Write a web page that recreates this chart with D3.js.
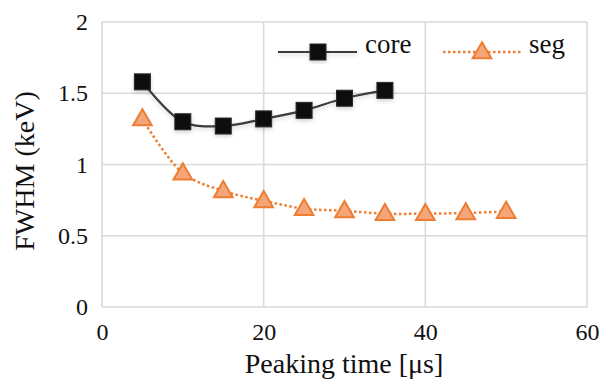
<!DOCTYPE html>
<html>
<head>
<meta charset="utf-8">
<script src="https://cdn.jsdelivr.net/npm/d3@7"></script>
<style>
  html, body { margin: 0; padding: 0; background: #fff; }
</style>
</head>
<body>
<svg id="chart" width="600" height="382"></svg>
<script>
// Energy resolution vs. shaping peaking time
const coreTimes = [5, 10, 15, 20, 25, 30, 35];
const coreFwhm  = [1.58, 1.30, 1.27, 1.32, 1.38, 1.465, 1.52];
const segTimes  = [5, 10, 15, 20, 25, 30, 35, 40, 45, 50];
const segFwhm   = [1.32, 0.94, 0.815, 0.745, 0.69, 0.675, 0.655, 0.655, 0.66, 0.67];
const xTicks = [0, 20, 40, 60];
const yTicks = [0, 0.5, 1, 1.5, 2];
const yTickLabels = ["0", "0.5", "1", "1.5", "2"];
const seriesNames = ["core", "seg"];

const svg = d3.select("#chart");
const margin = { left: 102, right: 13, top: 22, bottom: 75 };
const W = 600, H = 382;
const FONT = "'Liberation Serif'";

const x = d3.scaleLinear().domain([0, 60]).range([margin.left, W - margin.right]);
const y = d3.scaleLinear().domain([0, 2]).range([H - margin.bottom, margin.top]);

const grid = "#d9d9d9";
const ink = "#111";

// soft shadow under the core trace
const defs = svg.append("defs");
const f = defs.append("filter").attr("id", "soft").attr("x", "-20%").attr("y", "-20%").attr("width", "140%").attr("height", "140%");
f.append("feGaussianBlur").attr("in", "SourceAlpha").attr("stdDeviation", 2.2).attr("result", "b");
f.append("feOffset").attr("in", "b").attr("dx", 0).attr("dy", 2).attr("result", "o");
f.append("feComponentTransfer").attr("in", "o").attr("result", "s")
  .append("feFuncA").attr("type", "linear").attr("slope", 0.18);
const m = f.append("feMerge");
m.append("feMergeNode").attr("in", "s");
m.append("feMergeNode").attr("in", "SourceGraphic");

// grid lines
svg.append("g").selectAll("line").data(yTicks).join("line")
  .attr("x1", x(0)).attr("x2", x(60))
  .attr("y1", d => y(d)).attr("y2", d => y(d))
  .attr("stroke", grid).attr("stroke-width", 1.6);
svg.append("g").selectAll("line").data(xTicks).join("line")
  .attr("y1", y(0)).attr("y2", y(2))
  .attr("x1", d => x(d)).attr("x2", d => x(d))
  .attr("stroke", grid).attr("stroke-width", 1.6);

// y axis labels
const yAxis = d3.axisLeft(y).tickValues(yTicks).tickSize(0).tickPadding(14)
  .tickFormat((d, i) => yTickLabels[i]);
svg.append("g").attr("transform", `translate(${x(0)},0)`).call(yAxis)
  .attr("font-family", null).attr("font-size", null)
  .call(g => g.select(".domain").remove())
  .selectAll("text").style("font-family", FONT).style("font-size", "24px").attr("fill", ink);

// x axis labels
const xAxis = d3.axisBottom(x).tickValues(xTicks).tickSize(0).tickPadding(16).tickFormat(d3.format("d"));
svg.append("g").attr("transform", `translate(0,${y(0)})`).call(xAxis)
  .attr("font-family", null).attr("font-size", null)
  .call(g => g.select(".domain").remove())
  .selectAll("text").style("font-family", FONT).style("font-size", "24px").attr("fill", ink);

// axis titles
svg.append("text").attr("x", 344).attr("y", 373).attr("text-anchor", "middle")
  .style("font-family", FONT).style("font-size", "28px").attr("fill", ink).text("Peaking time [μs]");
svg.append("text").attr("transform", "translate(34,171) rotate(-90)").attr("text-anchor", "middle")
  .style("font-family", FONT).style("font-size", "28px").attr("fill", ink).text("FWHM (keV)");

const lineGen = d3.line().curve(d3.curveCatmullRom.alpha(0.5));

// seg series
const segPts = segTimes.map((t, i) => [x(t), y(segFwhm[i])]);
svg.append("path").attr("d", lineGen(segPts)).attr("fill", "none")
  .attr("stroke", "#ED7D31").attr("stroke-width", 2.5).attr("stroke-dasharray", "2.5,2.5");
const tri = d3.symbol().type(d3.symbolTriangle).size(150);
svg.append("g").selectAll("path").data(segPts).join("path")
  .attr("d", tri).attr("transform", d => `translate(${d[0]},${d[1] + 1})`)
  .attr("fill", "#F4A57A").attr("stroke", "#ED7D31").attr("stroke-width", 2);

// core series
const corePts = coreTimes.map((t, i) => [x(t), y(coreFwhm[i])]);
const coreG = svg.append("g").attr("filter", "url(#soft)");
coreG.append("path").attr("d", lineGen(corePts)).attr("fill", "none")
  .attr("stroke", "#3a3a3a").attr("stroke-width", 2.2);
coreG.selectAll("rect").data(corePts).join("rect")
  .attr("x", d => d[0] - 8).attr("y", d => d[1] - 8).attr("width", 16).attr("height", 16)
  .attr("fill", "#111").attr("stroke", "#2a2a2a").attr("stroke-width", 1);

// legend
const leg = svg.append("g");
const ly = 52;
const lg1 = leg.append("g").attr("filter", "url(#soft)");
lg1.append("line").attr("x1", 278).attr("x2", 357).attr("y1", ly).attr("y2", ly)
  .attr("stroke", "#3a3a3a").attr("stroke-width", 2.2);
lg1.append("rect").attr("x", 318 - 8).attr("y", ly - 8).attr("width", 16).attr("height", 16)
  .attr("fill", "#111").attr("stroke", "#2a2a2a").attr("stroke-width", 1);
leg.append("text").attr("x", 365).attr("y", ly + 1).style("font-family", FONT).style("font-size", "27px")
  .attr("fill", ink).text(seriesNames[0]);

leg.append("line").attr("x1", 443).attr("x2", 521).attr("y1", ly).attr("y2", ly)
  .attr("stroke", "#ED7D31").attr("stroke-width", 2.5).attr("stroke-dasharray", "2.5,2.5");
leg.append("path").attr("d", tri).attr("transform", `translate(482,${ly + 1})`)
  .attr("fill", "#F4A57A").attr("stroke", "#ED7D31").attr("stroke-width", 2);
leg.append("text").attr("x", 529).attr("y", ly + 1).style("font-family", FONT).style("font-size", "27px")
  .attr("fill", ink).text(seriesNames[1]);
</script>
</body>
</html>
